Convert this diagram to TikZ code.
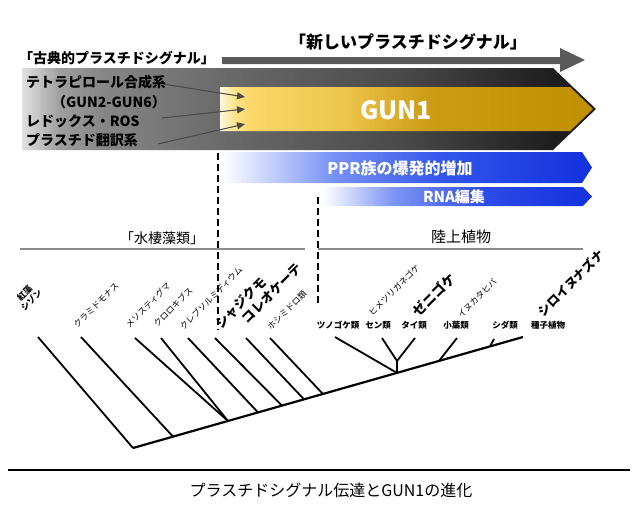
\documentclass[tikz,border=0pt]{standalone}
\usepackage{fontspec}
\setmainfont{Noto Sans CJK JP}
\usetikzlibrary{arrows.meta,calc}
\definecolor{arrowgray}{HTML}{5A5A5A}
\definecolor{thinarrow}{HTML}{4A4A4A}
\definecolor{linegray}{HTML}{8A8A8A}
\pgfdeclarehorizontalshading{grayband}{100bp}{color(0bp)=(white!88!black); color(25bp)=(white!88!black); color(28.3bp)=(white!62!black); color(31.8bp)=(white!53!black); color(42bp)=(white!42!black); color(58bp)=(white!29!black); color(71bp)=(white!12!black); color(75bp)=(white!10!black); color(100bp)=(white!10!black)}
\pgfdeclarehorizontalshading{goldband}{100bp}{color(0bp)=(rgb,255:red,253;green,246;blue,220); color(25bp)=(rgb,255:red,253;green,246;blue,220); color(27bp)=(rgb,255:red,253;green,228;blue,138); color(29bp)=(rgb,255:red,252;green,216;blue,106); color(42bp)=(rgb,255:red,236;green,196;blue,74); color(53bp)=(rgb,255:red,204;green,156;blue,20); color(75bp)=(rgb,255:red,192;green,144;blue,0); color(100bp)=(rgb,255:red,192;green,144;blue,0)}
\pgfdeclarehorizontalshading{blueband}{100bp}{color(0bp)=(white); color(25bp)=(white); color(40bp)=(rgb,255:red,120;green,145;blue,245); color(55bp)=(rgb,255:red,50;green,85;blue,235); color(75bp)=(rgb,255:red,18;green,48;blue,222); color(100bp)=(rgb,255:red,18;green,48;blue,222)}
\pgfdeclarehorizontalshading{rnaband}{100bp}{color(0bp)=(white); color(25bp)=(white); color(38bp)=(rgb,255:red,125;green,150;blue,245); color(55bp)=(rgb,255:red,45;green,75;blue,232); color(75bp)=(rgb,255:red,18;green,48;blue,222); color(100bp)=(rgb,255:red,18;green,48;blue,222)}
\tikzset{
  bandtext/.style={font=\bfseries\fontsize{14}{16}\selectfont, inner sep=0pt, anchor=west},
  titletext/.style={font=\bfseries\fontsize{#1}{#1}\selectfont, inner sep=0pt},
  whitetext/.style={font=\bfseries\fontsize{#1}{#1}\selectfont, inner sep=0pt, text=white},
  thinarr/.style={draw=thinarrow, line width=1pt, -{Triangle[length=8pt,width=7pt]}, fill=thinarrow},
  divline/.style={draw=black, line width=1.3pt, dash pattern=on 7pt off 4pt},
  groupline/.style={draw=linegray, line width=2pt},
  grouptext/.style={font=\fontsize{#1}{#1}\selectfont, inner sep=0pt},
  taxsmall/.style={font=\fontsize{8.5}{9.5}\selectfont, inner sep=0pt, rotate=45},
  taxbig/.style={font=\bfseries\fontsize{#1}{#1}\selectfont, inner sep=0pt, rotate=45},
  taxflat/.style={font=\bfseries\fontsize{8.5}{9.5}\selectfont, inner sep=0pt},
  branch/.style={draw=black, line width=1.8pt},
  trunk/.style={draw=black, line width=2.2pt},
}
\begin{document}
\begin{tikzpicture}[x=1pt,y=-1pt]
\useasboundingbox (0,0) rectangle (640,520);
% top arrow
\fill[arrowgray] (222,57) -- (560,57) -- (560,48) -- (585,60) -- (560,72) -- (560,64) -- (222,64) -- cycle;
\node[titletext=17] (newsig) at (408,42) {「新しいプラスチドシグナル」};
\node[titletext=14, anchor=west] (classic) at (19,58) {「古典的プラスチドシグナル」};
% gray band
\shade[shading=grayband] (22,68) -- (553,68) -- (596,109) -- (553,150) -- (22,150) -- cycle;
% gold band
\shade[shading=goldband] (220,87) -- (570,87) -- (593,109) -- (570,131) -- (220,131) -- cycle;
\node[whitetext=25] (gun1) at (396,110) {GUN1};
% left texts
\node[bandtext] (tetra) at (26,82) {テトラピロール合成系};
\node[bandtext] (gun26) at (52,102) {（GUN2-GUN6）};
\node[bandtext] (redox) at (26,121) {レドックス・ROS};
\node[bandtext] (transl) at (26,140) {プラスチド翻訳系};
\coordinate (s1) at (163,84);
\coordinate (s2) at (162,118);
\coordinate (s3) at (158,144);
\coordinate (e1) at (245,97);
\coordinate (e2) at (245,109);
\coordinate (e3) at (245,124);
\draw[thinarr] (s1) -- (e1);
\draw[thinarr] (s2) -- (e2);
\draw[thinarr] (s3) -- (e3);
% blue bands
\shade[shading=blueband] (222,152) -- (582,152) -- (592,167.5) -- (582,183) -- (222,183) -- cycle;
\node[whitetext=16] (ppr) at (400,168) {PPR族の爆発的増加};
\shade[shading=rnaband] (323,187) -- (583,187) -- (592,196.5) -- (583,206) -- (323,206) -- cycle;
\node[whitetext=15] (rna) at (454,197) {RNA編集};
% dashed dividers
\coordinate (d1t) at (218,153);
\coordinate (d1b) at (218,330);
\coordinate (d2t) at (318,197);
\coordinate (d2b) at (318,305);
\draw[divline] (d1t) -- (d1b);
\draw[divline] (d2t) -- (d2b);
% group lines
\coordinate (g1a) at (20,249);
\coordinate (g1b) at (305,249);
\coordinate (g2a) at (318,249);
\coordinate (g2b) at (583,249);
\draw[groupline] (g1a) -- (g1b);
\draw[groupline] (g2a) -- (g2b);
\node[grouptext=14] (algae) at (162,238) {「水棲藻類」};
\node[grouptext=15] (land) at (461,237) {陸上植物};
% tree
\coordinate (root) at (133,448);
\coordinate (tip) at (523,337);
\coordinate (j2) at (173,436.6);
\coordinate (j3) at (228,421);
\coordinate (j5) at (258,412.4);
\coordinate (j6) at (282,405.6);
\coordinate (j7) at (304,399.3);
\coordinate (j8) at (323,394);
\coordinate (j9) at (397,372.9);
\coordinate (jy) at (397,361);
\coordinate (j11) at (439,360.9);
\coordinate (j12) at (490,346.4);
\coordinate (l1) at (38,337);
\coordinate (l2) at (81,337);
\coordinate (l3) at (135,338);
\coordinate (l4) at (161,338);
\coordinate (l5) at (188,338);
\coordinate (l6) at (215,338);
\coordinate (l7) at (246,338);
\coordinate (l8) at (270,338);
\coordinate (l9) at (335,337);
\coordinate (l10) at (382,338);
\coordinate (l11) at (415,338);
\coordinate (l12) at (457,338);
\coordinate (l13) at (494,339);
\draw[trunk] (root) -- (tip);
\draw[branch] (l1) -- (root);
\draw[branch] (l2) -- (j2);
\draw[branch] (l3) -- (j3);
\draw[branch] (l4) -- (j3);
\draw[branch] (l5) -- (j5);
\draw[branch] (l6) -- (j6);
\draw[branch] (l7) -- (j7);
\draw[branch] (l8) -- (j8);
\draw[branch] (l9) -- (j9);
\draw[branch] (j9) -- (jy);
\draw[branch] (jy) -- (l10);
\draw[branch] (jy) -- (l11);
\draw[branch] (l12) -- (j11);
\draw[branch] (l13) -- (j12);
% taxon labels
\node[taxsmall, font=\bfseries\fontsize{8.5}{9.5}\selectfont, align=center] (redalga) at (28,297) {紅藻\\シゾン};
\node[taxsmall] (chlamy) at (96,305) {クラミドモナス};
\node[taxsmall] (meso) at (148,305) {メソスティグマ};
\node[taxsmall] (chloro) at (173,307) {クロロキブス};
\node[taxsmall] (klebs) at (211,298) {クレブソルミディウム};
\node[taxbig=13] (chara) at (241,303) {シャジクモ};
\node[taxbig=13] (coleo) at (272,293) {コレオケーテ};
\node[taxsmall] (zygn) at (287,310) {ホシミドロ類};
\node[taxsmall] (physco) at (394,290) {ヒメツリガネゴケ};
\node[taxbig=13.5] (march) at (434,295) {ゼニゴケ};
\node[taxsmall] (selag) at (477,298) {イヌカタヒバ};
\node[taxbig=12.5] (arab) at (571,283) {シロイヌナズナ};
\node[taxflat] (horn) at (338,325) {ツノゴケ類};
\node[taxflat] (moss) at (378,325) {セン類};
\node[taxflat] (liver) at (414,325) {タイ類};
\node[taxflat] (lyco) at (456,325) {小葉類};
\node[taxflat] (fern) at (505,325) {シダ類};
\node[taxflat] (seed) at (548,325) {種子植物};
% bottom caption
\coordinate (bl) at (8,470);
\coordinate (br) at (630,470);
\draw[black, line width=1.5pt] (bl) -- (br);
\node[grouptext=16] (caption) at (331,490) {プラスチドシグナル伝達とGUN1の進化};
\end{tikzpicture}
\end{document}
